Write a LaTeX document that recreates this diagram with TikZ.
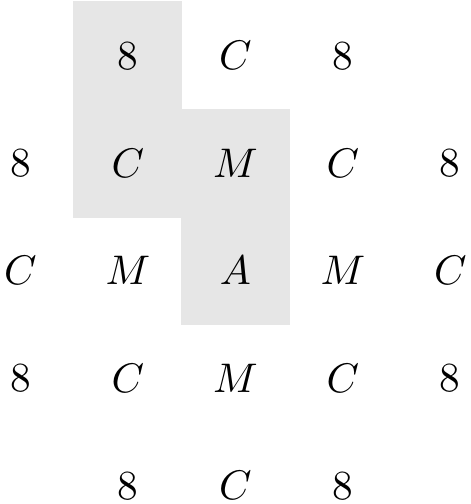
\documentclass[tikz,border=0pt,11pt]{standalone}
\usepackage{tikz}
\usetikzlibrary{fit,backgrounds}
\definecolor{Shade}{HTML}{E6E6E6}
\tikzset{
  cell/.style={minimum size=1cm,inner sep=0pt,anchor=center},
  band/.style={fill=Shade,draw=none,inner sep=0pt}
}

\begin{document}
\begin{tikzpicture}
  \useasboundingbox (-0.19,0.52) rectangle (4.19,-4.17);
  % top row
  \node[cell] (r0c1) at (1,0) {8};
  \node[cell] (r0c2) at (2,0) {$C$};
  \node[cell] (r0c3) at (3,0) {8};
  % second row
  \node[cell] (r1c0) at (0,-1) {8};
  \node[cell] (r1c1) at (1,-1) {$C$};
  \node[cell] (r1c2) at (2,-1) {$M$};
  \node[cell] (r1c3) at (3,-1) {$C$};
  \node[cell] (r1c4) at (4,-1) {8};
  % middle row
  \node[cell] (r2c0) at (0,-2) {$C$};
  \node[cell] (r2c1) at (1,-2) {$M$};
  \node[cell] (r2c2) at (2,-2) {$A$};
  \node[cell] (r2c3) at (3,-2) {$M$};
  \node[cell] (r2c4) at (4,-2) {$C$};
  % fourth row
  \node[cell] (r3c0) at (0,-3) {8};
  \node[cell] (r3c1) at (1,-3) {$C$};
  \node[cell] (r3c2) at (2,-3) {$M$};
  \node[cell] (r3c3) at (3,-3) {$C$};
  \node[cell] (r3c4) at (4,-3) {8};
  % bottom row
  \node[cell] (r4c1) at (1,-4) {8};
  \node[cell] (r4c2) at (2,-4) {$C$};
  \node[cell] (r4c3) at (3,-4) {8};
  % shaded columns
  \begin{scope}[on background layer]
    \node[band,fit=(r0c1)(r1c1)] (leftband) {};
    \node[band,fit=(r1c2)(r2c2)] (midband) {};
  \end{scope}
\end{tikzpicture}
\end{document}
